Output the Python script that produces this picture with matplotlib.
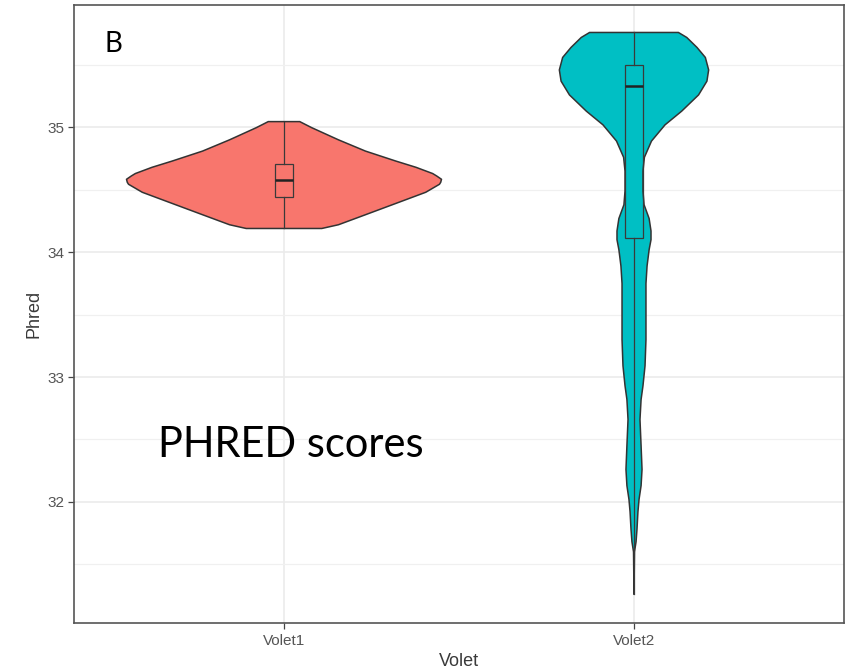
import matplotlib
matplotlib.use('Agg')
import matplotlib.pyplot as plt
import numpy as np


GROUPS = ['Volet1', 'Volet2']
FILLS = ['#F8766D', '#00BFC4']

# violin outlines: Phred value and relative density
V1_Y = [35.046, 34.998, 34.90, 34.81, 34.73, 34.68, 34.63, 34.61, 34.584, 34.56,
        34.544, 34.48, 34.40, 34.30, 34.22, 34.19]
V1_D = [0.10, 0.175, 0.346, 0.517, 0.71, 0.838, 0.944, 0.97, 1.0, 0.995,
        0.987, 0.90, 0.73, 0.517, 0.346, 0.24]

V2_Y = [35.76, 35.72, 35.64, 35.56, 35.46, 35.37, 35.26, 35.13, 35.02, 34.89,
        34.76, 34.65, 34.49, 34.38, 34.27, 34.17, 34.10, 34.02, 33.89, 33.75, 33.49,
        33.30, 33.09, 32.93, 32.82, 32.66, 32.45, 32.26, 32.13, 32.02, 31.92, 31.78,
        31.68, 31.60, 31.26]
V2_D = [0.282, 0.335, 0.40, 0.453, 0.474, 0.463, 0.41, 0.303, 0.197, 0.111,
        0.066, 0.057, 0.057, 0.064, 0.096, 0.108, 0.108, 0.096, 0.083, 0.076, 0.076,
        0.076, 0.070, 0.057, 0.045, 0.038, 0.045, 0.051, 0.045, 0.032, 0.025, 0.019,
        0.013, 0.003, 0.0]

# box stats: whisker low, q1, median, q3, whisker high
WLO = [34.19, 31.26]
Q1 = [34.44, 34.11]
MED = [34.58, 35.33]
Q3 = [34.71, 35.50]
WHI = [35.046, 35.76]

YTICKS = [32, 33, 34, 35]

plt.rcParams['font.family'] = ['Liberation Sans', 'DejaVu Sans']

fig = plt.figure(figsize=(8.56, 6.70), dpi=100)
ax = fig.add_axes([74/856, 1-623/670, 770/856, 618/670])

profiles = [(V1_Y, V1_D), (V2_Y, V2_D)]
for i, (yv, dv) in enumerate(profiles):
    pos = i + 1
    yv = np.array(yv)
    hw = 0.45*np.array(dv)
    xs = np.concatenate([pos - hw, (pos + hw)[::-1]])
    ys = np.concatenate([yv, yv[::-1]])
    ax.fill(xs, ys, facecolor=FILLS[i], edgecolor='#333333', lw=1.1,
            joinstyle='round', zorder=2)

stats = [dict(whislo=WLO[i], q1=Q1[i], med=MED[i], q3=Q3[i], whishi=WHI[i], fliers=[])
         for i in range(len(GROUPS))]
ax.bxp(stats, positions=[1, 2], widths=0.05, showcaps=False, showfliers=False,
       patch_artist=True,
       boxprops=dict(facecolor='none', edgecolor='#3a3a3a', lw=0.9),
       whiskerprops=dict(color='#3a3a3a', lw=0.9),
       medianprops=dict(color='#222222', lw=1.8),
       zorder=3)

ax.set_xlim(0.4, 2.6)
ax.set_ylim(31.03, 35.98)
ax.set_xticks([1, 2])
ax.set_xticklabels(GROUPS)
ax.set_yticks(YTICKS)
ax.set_yticks([31.5, 32.5, 33.5, 34.5, 35.5], minor=True)

ax.grid(True, which='major', color='#ebebeb', lw=1.2, zorder=0)
ax.grid(True, which='minor', axis='y', color='#f0f0f0', lw=0.9, zorder=0)
ax.set_axisbelow(True)

ax.tick_params(axis='both', which='major', length=4, width=0.9, color='#444444',
               labelsize=11, labelcolor='#555555')
ax.tick_params(axis='x', pad=4)
ax.tick_params(axis='y', pad=3)
ax.tick_params(which='minor', length=0)

for sp in ax.spines.values():
    sp.set_color('#555555')
    sp.set_linewidth(1.2)

ax.set_xlabel('Volet', fontsize=13, color='#3a3a3a')
ax.set_ylabel('Phred', fontsize=13, color='#3a3a3a')
ax.xaxis.set_label_coords(0.5, -0.048)
ax.yaxis.set_label_coords(-0.041, 0.5)

ax.text(0.040, 0.924, 'B', transform=ax.transAxes, fontsize=20,
        family='Lato', color='black', va='baseline')
ax.text(0.109, 0.2686, 'PHRED scores', transform=ax.transAxes, fontsize=30,
        family='Lato', color='black', va='baseline')

fig.savefig('out.png', dpi=100)
